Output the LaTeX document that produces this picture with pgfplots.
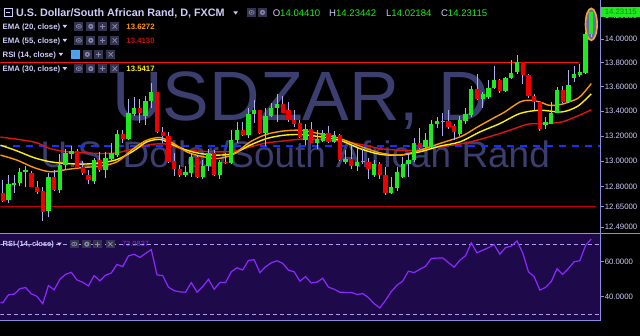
\documentclass[border=0pt]{standalone}
\usepackage{pgfplots}
\pgfplotsset{compat=1.18}
\usepackage{pgfplotstable}
\usepackage{fontspec}
\setmainfont{Liberation Sans}
\definecolor{lav}{RGB}{205,205,250}
\definecolor{axl}{RGB}{140,140,225}
\definecolor{cg}{RGB}{30,235,30}
\definecolor{cr}{RGB}{238,0,0}
\definecolor{wick}{RGB}{175,175,245}
\definecolor{wm}{RGB}{60,62,112}
\definecolor{rsibg}{RGB}{30,10,75}
\definecolor{rsil}{RGB}{140,40,255}
\definecolor{rsid}{RGB}{170,160,240}
\definecolor{ema20}{RGB}{255,153,0}
\definecolor{ema30}{RGB}{255,240,0}
\definecolor{ema55}{RGB}{220,20,20}
\definecolor{iconbg}{RGB}{52,52,78}
\definecolor{iconfg}{RGB}{135,135,170}
\definecolor{valred}{RGB}{190,20,20}
\definecolor{hl}{RGB}{60,170,255}
\definecolor{tagtxt}{RGB}{20,140,20}
\definecolor{bluedash}{RGB}{20,50,255}
\definecolor{hred}{RGB}{255,20,20}
\definecolor{hdred}{RGB}{200,0,0}
\definecolor{ellst}{RGB}{245,165,40}
\definecolor{ellfill}{RGB}{105,105,175}

\pgfplotstableread{
i o h l c
1 12.698 12.892 12.677 12.822
2 12.818 12.892 12.752 12.830
3 12.830 12.947 12.806 12.915
4 12.918 12.962 12.798 12.931
8 12.617 12.910 12.566 12.874
10 12.775 13.054 12.754 12.970
11 12.970 13.094 12.931 13.062
12 13.056 13.120 13.019 13.082
16 12.848 13.030 12.822 13.014
18 12.931 13.075 12.866 13.027
19 13.022 13.141 13.009 13.062
20 13.049 13.247 13.035 13.215
22 13.181 13.504 13.167 13.382
23 13.377 13.517 13.361 13.428
25 13.361 13.529 13.288 13.484
26 13.484 13.632 13.431 13.556
32 12.892 12.962 12.879 12.918
33 12.910 13.062 12.879 13.035
35 12.874 13.009 12.858 12.962
36 12.962 13.094 12.926 13.067
38 12.892 13.014 12.858 12.996
40 12.988 13.247 12.978 13.167
41 13.167 13.312 13.146 13.253
43 13.207 13.423 13.188 13.377
44 13.377 13.490 13.306 13.414
46 13.225 13.423 13.120 13.361
47 13.361 13.468 13.350 13.431
48 13.431 13.545 13.314 13.463
53 13.167 13.301 13.128 13.261
55 13.146 13.247 13.101 13.173
56 13.161 13.247 13.154 13.221
58 13.154 13.241 13.146 13.207
60 12.996 13.088 12.983 13.022
62 12.962 13.109 12.926 12.996
63 12.991 13.094 12.978 13.001
65 12.892 13.009 12.879 12.978
68 12.754 12.879 12.744 12.801
69 12.788 12.957 12.770 12.915
70 12.879 13.035 12.866 12.978
71 12.978 13.056 12.879 13.009
72 13.009 13.188 12.996 13.141
74 13.114 13.225 13.109 13.167
75 13.114 13.328 13.109 13.296
76 13.296 13.350 13.269 13.322
77 13.316 13.382 13.199 13.324
80 13.215 13.361 13.199 13.328
81 13.322 13.431 13.301 13.377
82 13.369 13.605 13.350 13.586
84 13.504 13.558 13.431 13.545
85 13.517 13.654 13.504 13.594
86 13.594 13.770 13.586 13.654
88 13.566 13.681 13.558 13.676
89 13.676 13.821 13.668 13.715
90 13.723 13.863 13.704 13.804
95 13.288 13.355 13.261 13.314
96 13.301 13.476 13.296 13.387
97 13.387 13.599 13.382 13.572
99 13.476 13.743 13.468 13.613
100 13.676 13.770 13.640 13.704
101 13.696 13.787 13.681 13.723
102 13.715 14.057 13.710 14.044
103 14.0441 14.2344 14.0218 14.2312
}\greenc

\pgfplotstableread{
i o h l c
0 12.754 12.853 12.683 12.693
5 12.905 12.926 12.796 12.801
6 12.801 12.848 12.744 12.762
7 12.770 12.801 12.541 12.609
9 12.874 12.931 12.770 12.775
13 13.078 13.094 12.936 12.944
14 12.952 13.004 12.892 12.905
15 12.892 12.931 12.822 12.853
17 13.009 13.075 12.918 12.931
21 13.215 13.247 13.141 13.173
24 13.425 13.504 13.306 13.382
27 13.556 13.558 13.225 13.233
28 13.233 13.274 13.141 13.199
29 13.199 13.233 12.988 12.996
30 13.004 13.062 12.884 12.936
31 12.936 12.970 12.879 12.892
34 13.035 13.049 12.866 12.874
37 13.067 13.088 12.884 12.892
39 12.996 13.067 12.978 12.988
42 13.253 13.312 13.199 13.207
45 13.414 13.414 13.215 13.225
49 13.463 13.523 13.382 13.387
50 13.409 13.476 13.314 13.328
51 13.328 13.409 13.274 13.296
52 13.306 13.328 13.188 13.193
54 13.255 13.314 13.141 13.146
57 13.221 13.285 13.146 13.154
59 13.207 13.215 13.004 13.009
61 13.022 13.120 12.936 12.962
64 12.996 13.030 12.858 12.936
66 12.978 12.996 12.858 12.892
67 12.892 12.952 12.737 12.754
73 13.141 13.269 13.101 13.109
78 13.322 13.409 13.261 13.274
79 13.279 13.301 13.167 13.233
83 13.586 13.710 13.496 13.504
87 13.659 13.668 13.550 13.566
91 13.804 13.804 13.627 13.696
92 13.696 13.704 13.512 13.523
93 13.523 13.545 13.409 13.476
94 13.476 13.476 13.241 13.261
98 13.572 13.605 13.468 13.476
}\redc

\pgfplotsset{
  wickst/.style={draw=none, mark=none, forget plot, error bars/.cd, y dir=plus, y explicit, error mark=none, error bar style={draw=wick, line width=1pt}},
  bodyst/.style={draw=none, mark=none, forget plot, error bars/.cd, y dir=plus, y explicit, error mark=none, error bar style={draw=#1, line width=4.4pt}},
}

\newcommand{\ibox}[3][iconbg]{\fill[#1] (#2-4.6,-#3+4.2) rectangle (#2+4.6,-#3-4.2);}
\newcommand{\ieye}[3][iconbg]{\ibox[#1]{#2}{#3}\draw[iconfg,line width=0.7] (#2,-#3) ellipse [x radius=2.6, y radius=1.9]; \fill[iconfg] (#2,-#3) circle (0.9);}
\newcommand{\igear}[2]{\ibox{#1}{#2}\fill[iconfg] (#1,-#2) circle (2.6); \fill[iconbg] (#1,-#2) circle (1.0);}
\newcommand{\iplus}[2]{\ibox{#1}{#2}\draw[iconfg,line width=0.9] (#1-2.6,-#2) -- (#1+2.6,-#2) (#1,-#2-2.6) -- (#1,-#2+2.6);}
\newcommand{\itimes}[2]{\ibox{#1}{#2}\draw[iconfg,line width=0.8] (#1-2.2,-#2-2.2) -- (#1+2.2,-#2+2.2) (#1-2.2,-#2+2.2) -- (#1+2.2,-#2-2.2);}
\newcommand{\tri}[2]{\fill[lav] (#1-2.4,-#2+1.6) -- (#1+2.4,-#2+1.6) -- (#1,-#2-1.6) -- cycle;}

\begin{document}
\begin{tikzpicture}
\begin{scope}[x=1pt,y=1pt]
\useasboundingbox (0,0) rectangle (640,-336);
\fill[black] (0,0) rectangle (640,-336);
\node[anchor=base west, text=wm, font=\fontsize{70}{70}\selectfont, inner sep=0] at (112,-120) {USDZAR, D};
\node[anchor=base west, text=wm, font=\fontsize{37}{37}\selectfont, inner sep=0] at (40,-167) {U.S. Dollar/South African Rand};
\end{scope}

\begin{axis}[
  at={(0pt,0pt)}, anchor=north west,
  scale only axis, width=601pt, height=233pt,
  xmin=-0.4, xmax=104.63,
  ymode=log, ymin=12.4466, ymax=14.3318,
  axis line style={draw=none},
  xtick=\empty,
  ytick={12.49,12.65,12.8,13,13.2,13.4,13.6,13.8,14,14.2},
  yticklabels={12.49000,12.65000,12.80000,13.00000,13.20000,13.40000,13.60000,13.80000,14.00000,14.20000},
  ytick pos=right, yticklabel pos=right,
  tick align=outside, major tick length=3pt,
  tick style={draw=axl, line width=0.8pt},
  yticklabel style={anchor=west, inner sep=0pt, xshift=1pt, text=lav, font=\fontsize{7.8}{8}\selectfont},
]
\addplot[draw=bluedash, line width=2pt, dash pattern=on 7pt off 6pt, forget plot] coordinates {(-0.4,13.12) (104.63,13.12)};
\addplot[draw=hred, line width=1.4pt, forget plot] coordinates {(-0.4,13.8) (100.8,13.8)};
\addplot[draw=hdred, line width=1.4pt, forget plot] coordinates {(-0.4,12.65) (103.9,12.65)};

\addplot[draw=ema55, line width=1.4pt, smooth, forget plot] coordinates {(-0.4,13.193) (5.4,13.154) (8.3,13.101) (11.3,13.075) (14.2,13.067) (17.1,13.062) (20.0,13.067) (22.9,13.101) (25.8,13.133) (28.7,13.136) (31.6,13.094) (34.6,13.080) (37.5,13.075) (40.4,13.080) (43.3,13.114) (46.2,13.146) (49.1,13.161) (52.0,13.175) (54.9,13.175) (59.0,13.160) (62.5,13.135) (66.0,13.101) (69.5,13.088) (73.0,13.088) (76.5,13.114) (80.0,13.136) (83.5,13.173) (87.0,13.221) (89.6,13.261) (91.9,13.296) (94.8,13.301) (97.8,13.314) (100.6,13.361) (103.0,13.413)};
\addplot[draw=ema30, line width=1.4pt, smooth, forget plot] coordinates {(-0.4,13.128) (2.5,13.082) (5.4,13.030) (8.3,12.996) (11.3,12.983) (14.2,12.978) (17.1,12.988) (20.0,13.014) (22.9,13.082) (25.2,13.154) (27.6,13.173) (29.9,13.128) (32.2,13.088) (34.6,13.062) (37.5,13.049) (40.4,13.062) (43.3,13.128) (46.2,13.181) (49.1,13.207) (52.0,13.213) (54.9,13.199) (59.0,13.167) (62.5,13.101) (66.0,13.056) (69.5,13.049) (73.0,13.075) (76.5,13.120) (80.0,13.154) (83.5,13.233) (87.0,13.301) (90.5,13.382) (94.0,13.409) (97.8,13.395) (100.6,13.441) (103.0,13.542)};
\addplot[draw=ema20, line width=1.4pt, smooth, forget plot] coordinates {(-0.4,13.049) (2.5,13.009) (5.4,12.952) (8.3,12.918) (11.3,12.936) (14.2,12.952) (17.1,12.962) (20.0,12.996) (22.9,13.101) (25.2,13.167) (27.6,13.188) (29.9,13.141) (32.2,13.075) (34.6,13.041) (37.5,13.022) (40.4,13.056) (43.3,13.154) (46.2,13.215) (49.1,13.241) (52.0,13.247) (54.9,13.225) (59.0,13.181) (62.5,13.120) (66.0,13.067) (69.5,13.049) (73.0,13.088) (76.5,13.141) (80.3,13.199) (83.1,13.274) (86.1,13.350) (87.8,13.393) (90.5,13.476) (92.2,13.490) (94.0,13.476) (95.7,13.449) (97.8,13.457) (100.6,13.504) (101.8,13.558) (103.0,13.627)};

\draw[draw=ellst, line width=1.6pt, fill=ellfill] (axis cs:103,14.125) ellipse [x radius=5.8pt, y radius=16pt];

\addplot[wickst] table[x=i, y=l, y error plus expr=\thisrow{h}-\thisrow{l}] {\greenc};
\addplot[wickst] table[x=i, y=l, y error plus expr=\thisrow{h}-\thisrow{l}] {\redc};
\addplot[bodyst=cg] table[x=i, y=o, y error plus expr=\thisrow{c}-\thisrow{o}] {\greenc};
\addplot[bodyst=cr] table[x=i, y=c, y error plus expr=\thisrow{o}-\thisrow{c}] {\redc};
\end{axis}

\begin{axis}[
  at={(0pt,-233pt)}, anchor=north west,
  scale only axis, width=601pt, height=87pt,
  xmin=-0.4, xmax=104.63, ymin=26.7, ymax=76.4,
  axis line style={draw=none},
  axis background/.style={fill=rsibg},
  xtick={10,20,30,41,51,64,75,85,95},
  xticklabels={19,Jul,17,Aug,15,Sep,18,Oct,16},
  xtick pos=left, xticklabel pos=left, xmajorticks=false,
  xticklabel style={text=lav, font=\bfseries\fontsize{7.5}{8}\selectfont, inner sep=1pt, yshift=-3pt},
  ytick={40,60}, yticklabels={40.0000,60.0000},
  ytick pos=right, yticklabel pos=right,
  tick align=outside, major tick length=3pt,
  tick style={draw=axl, line width=0.8pt},
  yticklabel style={anchor=west, inner sep=0pt, xshift=1pt, text=lav, font=\fontsize{7.8}{8}\selectfont},
]
\addplot[draw=rsid, line width=1.1pt, dash pattern=on 4pt off 3pt, forget plot] coordinates {(-0.4,70) (104.63,70)};
\addplot[draw=rsid, line width=1.1pt, dash pattern=on 4pt off 3pt, forget plot] coordinates {(-0.4,30) (104.63,30)};
\addplot[draw=rsil, line width=1.2pt, forget plot] coordinates {(-0.4,36.8) (0,36.5) (1,41.1) (2,41.5) (3,44.6) (4,45.3) (5,41.7) (6,40.2) (7,36.0) (8,46.4) (9,44.0) (10,50.0) (11,52.8) (12,54.0) (13,49.6) (14,48.3) (15,46.2) (16,52.1) (17,49.1) (18,52.3) (19,53.6) (20,58.5) (21,57.2) (22,63.4) (23,64.3) (24,62.5) (25,64.8) (26,67.0) (27,52.5) (28,52.1) (29,45.5) (30,43.5) (31,42.8) (32,42.6) (33,48.1) (34,42.6) (35,45.8) (36,50.0) (37,44.3) (38,48.1) (39,48.1) (40,54.3) (41,56.6) (42,55.3) (43,60.8) (44,61.2) (45,53.8) (46,57.2) (47,59.4) (48,60.6) (49,59.1) (50,55.2) (51,54.3) (52,48.9) (53,51.5) (54,47.9) (55,48.3) (56,50.6) (57,45.5) (58,44.3) (59,42.6) (60,42.5) (61,42.5) (62,41.3) (63,41.8) (64,39.5) (65,36.0) (66,33.6) (67,38.0) (68,43.0) (69,46.6) (70,49.0) (71,54.6) (72,53.8) (73,55.8) (74,57.4) (75,61.9) (76,62.1) (77,62.2) (78,59.5) (79,56.9) (80,60.9) (81,63.5) (82,70.8) (83,65.1) (84,66.6) (85,68.1) (86,69.8) (87,64.3) (88,68.1) (89,69.0) (90,71.9) (91,65.1) (92,54.3) (93,51.5) (94,43.8) (95,45.4) (96,48.7) (97,56.0) (98,52.8) (99,56.2) (100,60.0) (101,60.6) (102,69.4) (103,73.08)};
\end{axis}

\begin{scope}[x=1pt,y=1pt]
\draw[axl, line width=0.9] (0,-233) -- (640,-233);
\draw[axl, line width=0.9] (601,0) -- (601,-320);
\draw[axl, line width=0.9] (0,-320) -- (601,-320);
% price tag
\fill[cg] (601.5,-6.5) rectangle (640,-17);
\node[anchor=west, inner sep=0, text=tagtxt, font=\fontsize{7.8}{8}\selectfont] at (605,-11.8) {14.23115};
% header
\draw[lav, line width=0.8] (3.5,-7.5) rectangle (11.5,-15.5); \draw[lav, line width=0.8] (5.5,-11.5) -- (9.5,-11.5);
\node[anchor=base west, inner sep=0, text=lav, font=\bfseries\fontsize{10.8}{12}\selectfont] at (15.5,-16.5) {U.S. Dollar/South African Rand, D, FXCM};
\tri{235.5}{12.5}
\ieye{251.5}{12}\igear{262.5}{12}
\node[anchor=base west, inner sep=0, font=\fontsize{9.6}{11}\selectfont] at (272.5,-16.5) {\textcolor{lav}{O}\textcolor{cg}{14.04410}};
\node[anchor=base west, inner sep=0, font=\fontsize{9.6}{11}\selectfont] at (329,-16.5) {\textcolor{lav}{H}\textcolor{cg}{14.23442}};
\node[anchor=base west, inner sep=0, font=\fontsize{9.6}{11}\selectfont] at (386,-16.5) {\textcolor{lav}{L}\textcolor{cg}{14.02184}};
\node[anchor=base west, inner sep=0, font=\fontsize{9.6}{11}\selectfont] at (441,-16.5) {\textcolor{lav}{C}\textcolor{cg}{14.23115}};
% legend rows
\node[anchor=base west, inner sep=0, text=lav, font=\bfseries\fontsize{7.8}{9}\selectfont] at (2,-28.8) {EMA (20, close)};
\tri{64.5}{26}\ieye{78.5}{26}\igear{90.5}{26}\iplus{102.5}{26}\itimes{114.5}{26}
\node[anchor=base west, inner sep=0, text=ema20, font=\bfseries\fontsize{7.8}{9}\selectfont] at (126,-28.8) {13.6272};
\node[anchor=base west, inner sep=0, text=lav, font=\bfseries\fontsize{7.8}{9}\selectfont] at (2,-42.8) {EMA (55, close)};
\tri{64.5}{40}\ieye{78.5}{40}\igear{90.5}{40}\iplus{102.5}{40}\itimes{114.5}{40}
\node[anchor=base west, inner sep=0, text=valred, font=\bfseries\fontsize{7.8}{9}\selectfont] at (126,-42.8) {13.4130};
\node[anchor=base west, inner sep=0, text=lav, font=\bfseries\fontsize{7.8}{9}\selectfont] at (2,-56.8) {RSI (14, close)};
\tri{60.5}{54}\ieye[hl]{75}{54}\igear{87}{54}\iplus{98.5}{54}\itimes{110.5}{54}
\node[anchor=base west, inner sep=0, text=lav, font=\bfseries\fontsize{7.8}{9}\selectfont] at (2,-71) {EMA (30, close)};
\tri{64.5}{68.3}\ieye{78.5}{68.3}\igear{90.5}{68.3}\iplus{102.5}{68.3}\itimes{114.5}{68.3}
\node[anchor=base west, inner sep=0, text=ema30, font=\bfseries\fontsize{7.8}{9}\selectfont] at (126,-71) {13.5417};
% rsi label
\node[anchor=base west, inner sep=0, text=lav, font=\bfseries\fontsize{7.5}{9}\selectfont] at (2,-246.7) {RSI (14, close)};
\tri{59}{244}\ieye{74}{244}\igear{86.5}{244}\iplus{97.5}{244}\itimes{110}{244}
\node[anchor=base west, inner sep=0, text=rsil, font=\fontsize{7.5}{9}\selectfont] at (121.6,-246.7) {73.0837};
\end{scope}
\end{tikzpicture}
\end{document}
